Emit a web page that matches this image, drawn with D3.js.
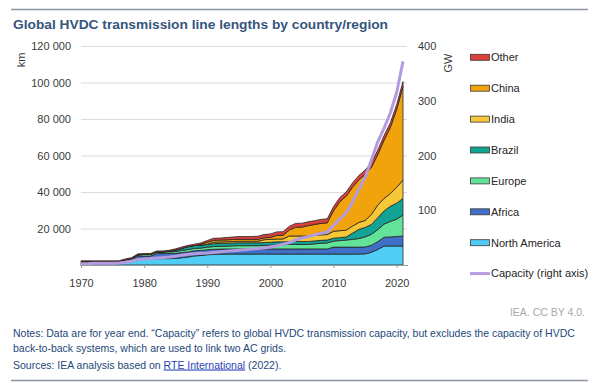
<!DOCTYPE html>
<html><head><meta charset="utf-8">
<script src="https://cdn.jsdelivr.net/npm/d3@7"></script>
<style>
body{margin:0;background:#fff;}
svg{display:block;font-family:"Liberation Sans",Arial,sans-serif;}
</style>
</head><body>
<svg id="c" width="600" height="383"></svg>
<script>
// ---------- data (km, year end) ----------
const years = [1970,1971,1972,1973,1974,1975,1976,1977,1978,1979,
               1980,1981,1982,1983,1984,1985,1986,1987,1988,1989,
               1990,1991,1992,1993,1994,1995,1996,1997,1998,1999,
               2000,2001,2002,2003,2004,2005,2006,2007,2008,2009,
               2010,2011,2012,2013,2014,2015,2016,2017,2018,2019,
               2020,2021];
const northAmerica = [1400,1400,1400,1400,1400,1400,1400,2100,2800,3500,
                      3500,3500,3500,3500,3500,3600,4000,4400,5000,5200,
                      5600,5800,5900,6000,6000,6000,6000,6000,6000,6000,
                      6000,6000,6000,6000,6000,6000,6000,6000,6000,6000,
                      6000,6000,6000,6000,6000,6100,7000,8500,10400,10400,
                      10400,10400];
const africa = [0,0,0,0,0,0,0,0,0,1400,
                1400,1400,2800,2800,2800,2800,2800,2800,2800,2800,
                2800,2800,2800,2800,2800,2800,2800,2800,2800,2800,
                2800,2800,2800,2800,2800,2800,2800,2800,2800,2800,
                3800,3800,3800,3800,3800,3800,3800,4300,4800,5000,
                5200,5500];
const europe = [500,500,500,500,500,500,500,700,700,700,
                900,900,900,900,900,1000,1200,1300,1300,1300,
                1400,1500,1500,1500,1700,1800,1800,1800,1800,1900,
                2100,2300,2300,2500,2500,2500,2500,2800,3100,3300,
                3300,3600,3900,4200,4700,5500,6000,6600,7200,8500,
                9500,11500];
const brazil = [0,0,0,0,0,0,0,0,0,0,
                0,0,0,0,400,800,1200,1600,1600,1600,
                1600,1600,1600,1600,1600,1600,1600,1600,1600,1600,
                1600,1600,1600,1600,1600,1600,1600,1600,1600,1600,
                1600,1600,1600,3500,5000,5200,5400,6500,7200,8300,
                8800,9100];
const india = [0,0,0,0,0,0,0,0,0,0,
               0,0,0,0,0,0,0,0,0,0,
               0,800,800,800,800,800,800,800,800,1550,
               1550,1550,1550,3000,3000,3000,3000,3000,3000,3000,
               3800,3800,3800,3800,3800,3800,5500,6900,6900,6900,
               8700,10100];
const china = [0,0,0,0,0,0,0,0,0,0,
               0,0,0,0,0,0,0,0,0,500,
               1050,1050,1050,1050,1050,1050,1050,1050,1050,1050,
               1050,2000,2000,3300,4800,4900,5700,6000,6300,6400,
               11200,15900,18600,21300,23300,25200,25800,27700,31900,36300,
               42700,51200];
const other = [400,400,400,400,400,400,400,500,500,500,
               500,500,500,500,500,700,700,700,700,700,
               1000,1100,1100,1300,1400,1500,1550,1600,1700,1800,
               1900,1900,2000,2000,2100,2100,2100,2100,2200,2200,
               2300,2300,2300,2400,2400,2400,2500,2500,2600,2600,
               2700,2700];
// capacity, GW (right axis)
const capacity = [2.5,2.5,3,3,3,3,3.5,5,7,10,
                  11,12,13,13.5,14.5,16,18,19.5,20.5,21.5,
                  22,23,24,25,26,27,28,29,30,31,
                  33,35,38,41,46,49,52,55,58,60,
                  72,84,95,115,138,160,192,225,250,278,
                  315,372];

const seriesNames = ["North America","Africa","Europe","Brazil","India","China","Other"];
const seriesValues = [northAmerica, africa, europe, brazil, india, china, other];
const seriesColors = ["#4fcdf4","#3f6fc6","#63e39a","#11a394","#f6c838","#f0a30a","#d9403a"];
const capacityName = "Capacity (right axis)";
const capacityColor = "#b49be0";
const xTicks = [1970,1980,1990,2000,2010,2020];
const leftTicks = [20000,40000,60000,80000,100000,120000];
const rightTicks = [100,200,300,400];

// ---------- build ----------
const table = years.map((yr,i)=>{
  const o = {year: yr};
  seriesNames.forEach((n,k)=>{ o[n] = seriesValues[k][i]; });
  o.capacity = capacity[i];
  return o;
});

const svg = d3.select("#c");
svg.append("rect").attr("width",600).attr("height",383).attr("fill","#fff");

const x = d3.scaleLinear().domain([1970,2021]).range([81,403]);
const yL = d3.scaleLinear().domain([0,120000]).range([265,46]);
const yR = d3.scaleLinear().domain([0,400]).range([265,46]);

// rules
svg.append("line").attr("x1",11).attr("x2",588).attr("y1",9.5).attr("y2",9.5)
  .attr("stroke","#8d969f").attr("stroke-width",1.5);
svg.append("line").attr("x1",11).attr("x2",588).attr("y1",380.5).attr("y2",380.5)
  .attr("stroke","#8d969f").attr("stroke-width",1.5);

function fit(sel, w){
  const L = sel.node().getComputedTextLength();
  if (Math.abs(L-w) > 1.5) sel.attr("textLength", w).attr("lengthAdjust","spacingAndGlyphs");
}

// title
const title = svg.append("text").attr("x",13).attr("y",29)
  .attr("font-size",13.5).attr("font-weight","bold").attr("fill","#35557d")
  .text("Global HVDC transmission line lengths by country/region");
fit(title, 375);

// gridlines
svg.append("g").selectAll("line").data(leftTicks).join("line")
  .attr("x1",81).attr("x2",407).attr("y1",d=>yL(d)+0.5).attr("y2",d=>yL(d)+0.5)
  .attr("stroke","#dcdcdc").attr("stroke-width",1);

// stacked areas
const stack = d3.stack().keys(seriesNames);
const layers = stack(table);
const area = d3.area().x(d=>x(d.data.year)).y0(d=>yL(d[0])).y1(d=>yL(d[1]));
svg.append("g").selectAll("path").data(layers).join("path")
  .attr("d", area)
  .attr("fill",(d,i)=>seriesColors[i])
  .attr("stroke","#262626").attr("stroke-width",0.8).attr("stroke-linejoin","round");

// capacity line
const line = d3.line().x(d=>x(d.year)).y(d=>yR(d.capacity));
svg.append("path").datum(table).attr("d",line)
  .attr("fill","none").attr("stroke",capacityColor).attr("stroke-width",3)
  .attr("stroke-linejoin","round");

// axes
const fmt = d => d3.format(",")(d).replace(/,/g," ");
const gL = svg.append("g").attr("transform","translate(81,0)")
  .call(d3.axisLeft(yL).tickValues(leftTicks).tickSize(0).tickPadding(10).tickFormat(fmt));
gL.select(".domain").remove();
const gR = svg.append("g").attr("transform","translate(407,0)")
  .call(d3.axisRight(yR).tickValues(rightTicks).tickSize(0).tickPadding(11));
gR.select(".domain").remove();
const gB = svg.append("g").attr("transform","translate(0,265)")
  .call(d3.axisBottom(x).tickValues(xTicks).tickSize(3).tickPadding(11).tickFormat(d3.format("d")));
gB.select(".domain").attr("d","M80.5,0.5H408").attr("stroke","#9a9a9a");
gB.selectAll(".tick line").attr("stroke","#9a9a9a");
[gL,gR,gB].forEach(g=>g.selectAll("text").attr("font-size",11).attr("fill","#3a3a3a")
  .attr("font-family","Liberation Sans, Arial, sans-serif"));

// axis titles
svg.append("text").attr("transform","translate(25,60) rotate(-90)")
  .attr("text-anchor","middle").attr("font-size",11).attr("fill","#3a3a3a").text("km");
svg.append("text").attr("transform","translate(452,63) rotate(-90)")
  .attr("text-anchor","middle").attr("font-size",11).attr("fill","#3a3a3a").text("GW");

// legend
const legendOrder = seriesNames.slice().reverse();
const lg = svg.append("g");
legendOrder.forEach((n,i)=>{
  const cy = 57.3 + i*30.9;
  const k = seriesNames.indexOf(n);
  lg.append("rect").attr("x",470.5).attr("y",cy-3).attr("width",19).attr("height",6)
    .attr("fill",seriesColors[k]).attr("stroke","#3a3a3a").attr("stroke-width",0.8);
  lg.append("text").attr("x",491).attr("y",cy).attr("dy","0.35em")
    .attr("font-size",11).attr("fill","#262626").text(n);
});
{
  const cy = 57.3 + 7*30.9;
  lg.append("line").attr("x1",470).attr("x2",490).attr("y1",cy).attr("y2",cy)
    .attr("stroke",capacityColor).attr("stroke-width",3);
  lg.append("text").attr("x",491).attr("y",cy).attr("dy","0.35em")
    .attr("font-size",11).attr("fill","#262626").text(capacityName);
}

// credits & notes
svg.append("text").attr("x",585).attr("y",316).attr("text-anchor","end")
  .attr("font-size",10.5).attr("fill","#a8a8a8").text("IEA. CC BY 4.0.");
const noteColor = "#24487a";
const n1 = svg.append("text").attr("x",13).attr("y",337).attr("font-size",10.5).attr("fill",noteColor)
  .text("Notes: Data are for year end. \u201cCapacity\u201d refers to global HVDC transmission capacity, but excludes the capacity of HVDC");
fit(n1, 563);
svg.append("text").attr("x",13).attr("y",351.5).attr("font-size",10.5).attr("fill",noteColor)
  .text("back-to-back systems, which are used to link two AC grids.");
const src = svg.append("text").attr("x",13).attr("y",368.5).attr("font-size",10.5).attr("fill",noteColor);
src.append("tspan").text("Sources: IEA analysis based on ");
src.append("tspan").attr("fill","#1f3fb8").attr("text-decoration","underline").text("RTE International");
src.append("tspan").text(" (2022).");
</script>
</body></html>
